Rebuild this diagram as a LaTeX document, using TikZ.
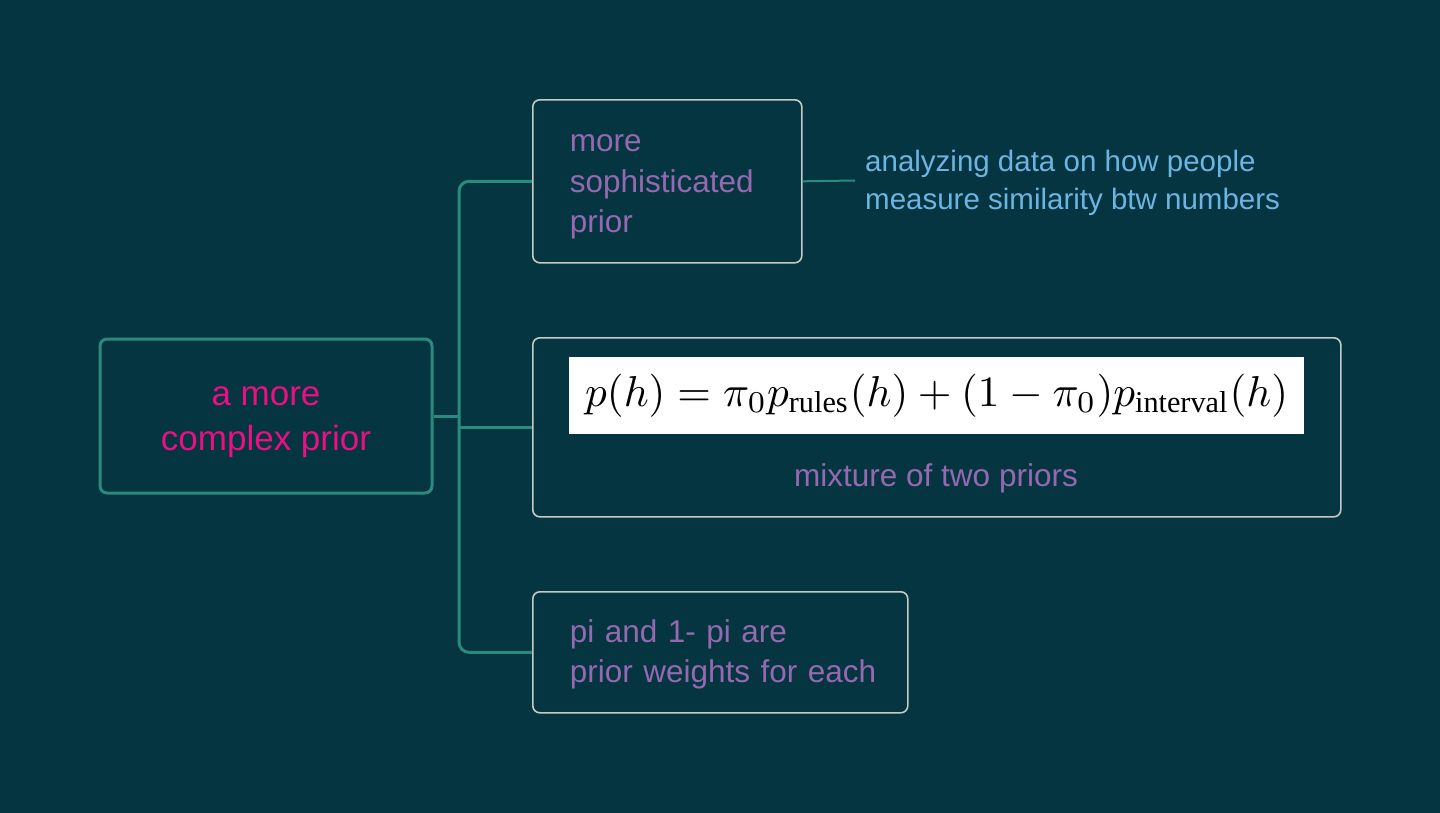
\documentclass[tikz,border=0pt]{standalone}
\usepackage{amsmath}
\usepackage{fontspec}
\setmainfont{Liberation Sans}
\newfontfamily\tmsfont{Liberation Serif}
\definecolor{bg}{HTML}{053541}
\definecolor{teal}{HTML}{2B8A7E}
\definecolor{boxgray}{HTML}{C2CBC6}
\definecolor{pinktxt}{HTML}{EA0F82}
\definecolor{purptxt}{HTML}{9469B0}
\definecolor{bluetxt}{HTML}{6DB4E2}
\newcommand{\lines}[3]{\raisebox{#1}[\height][\depth]{\begin{tabular}{@{}#2@{}}#3\end{tabular}}}
\tikzset{
  rootbox/.style={draw=teal, line width=3pt, rounded corners=7pt, minimum width=332pt, minimum height=154pt, text=pinktxt, font=\fontsize{35}{45}\selectfont, inner sep=0pt},
  leafbox/.style={draw=boxgray, line width=1.6pt, rounded corners=7pt, text=purptxt, font=\fontsize{31.5}{40.5}\selectfont, inner xsep=37pt, inner ysep=0pt, anchor=north west},
  conn/.style={draw=teal, line width=3pt},
  thinconn/.style={draw=teal, line width=2pt},
  note/.style={text=bluetxt, font=\fontsize{29.5}{38}\selectfont, inner sep=0pt, anchor=west},
}
\begin{document}
\begin{tikzpicture}[x=1pt,y=-1pt]
\useasboundingbox (0,0) rectangle (1440,812);
\fill[bg] (-6,-6) rectangle (1446,818);
\node[rootbox] (root) at (266,416) {\lines{-3pt}{c}{a more\\complex prior}};
\node[leafbox, minimum width=269pt, minimum height=163pt, text width=195pt] (top) at (532,99) {\lines{-3pt}{l}{more\\sophisticated\\prior}};
\node[leafbox, minimum width=808pt, minimum height=179pt] (mid) at (532,337) {};
\node[leafbox, minimum width=375pt, minimum height=121pt, text width=301pt] (bot) at (532,591) {\lines{-2pt}{l}{pi and 1- pi are\\prior weights for each}};
\node[fill=white, minimum width=735pt, minimum height=77pt, inner sep=0pt, anchor=north west] (formula) at (569,357)
  {\resizebox{703pt}{!}{$p(h) = \pi_0 p_{\text{\tmsfont rules}}(h) + (1-\pi_0)p_{\text{\tmsfont interval}}(h)$}};
\node[text=purptxt, font=\fontsize{31.5}{40}\selectfont, inner sep=0pt] (mixlabel) at (936,478) {mixture of two priors};
\node[note] (analysis) at (865,183) {\lines{0pt}{l}{analyzing data on how people\\measure similarity btw numbers}};
\coordinate (spine) at (459,416);
\coordinate (noteend) at (855,180.5);
\draw[conn] (root.east) -- (spine);
\draw[conn, rounded corners=10pt] (top.west) -- (top.west -| spine) -- (bot.west -| spine) -- (bot.west);
\draw[conn] (mid.west -| spine) -- (mid.west);
\draw[thinconn] (top.east) -- (noteend);
\end{tikzpicture}
\end{document}
